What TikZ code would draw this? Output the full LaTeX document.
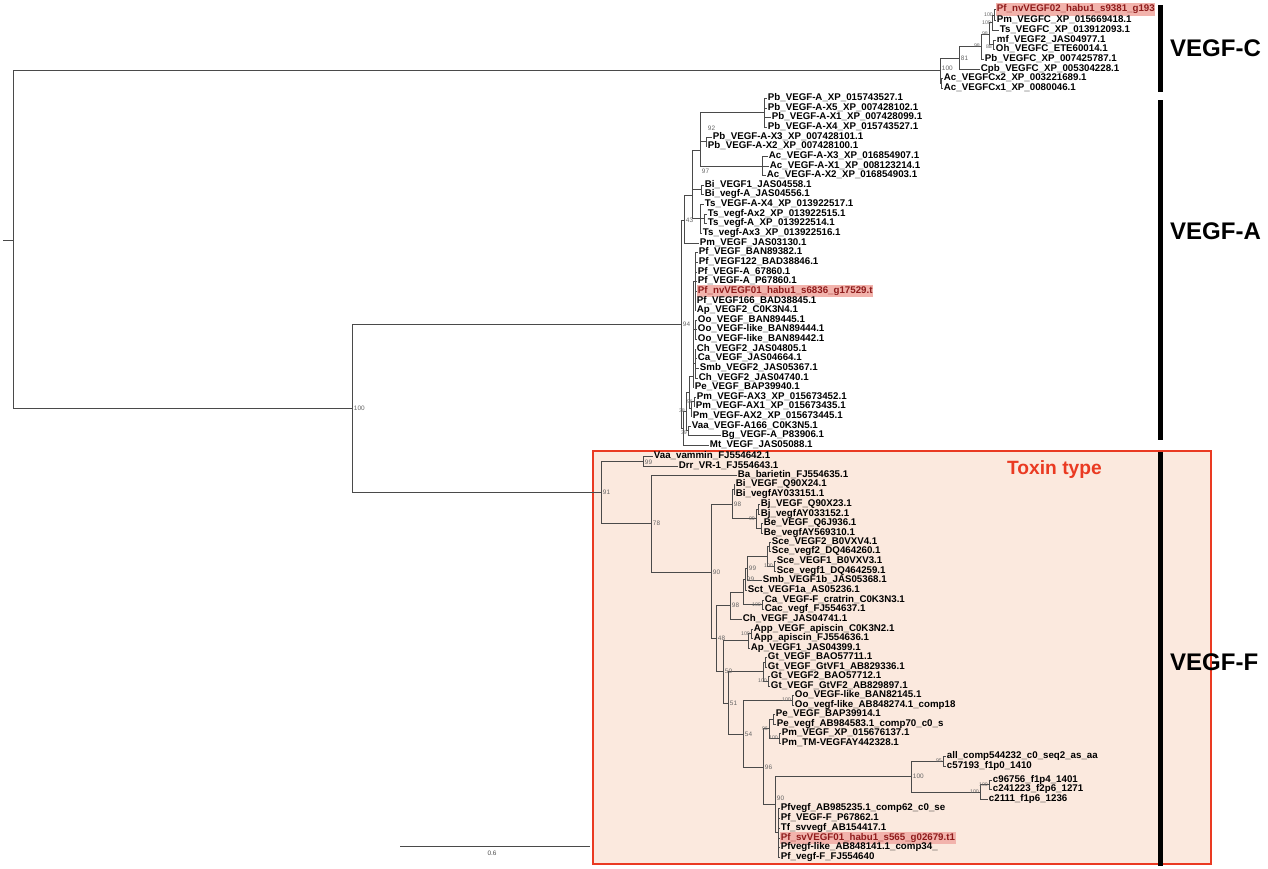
\documentclass[tikz,border=0pt]{standalone}
\usepackage{fontspec}
\setmainfont{Liberation Sans}
\newfontfamily\leaffont{Liberation Sans}
\definecolor{toxinfill}{HTML}{FBE9DE}
\definecolor{toxinred}{HTML}{EA3A22}
\definecolor{hlpink}{HTML}{F2B3AC}
\definecolor{hltext}{HTML}{8E1B1B}
\definecolor{branchgray}{HTML}{4A4A4A}
\tikzstyle{leaf} = [anchor=west, inner sep=0.6pt, font=\leaffont\bfseries\fontsize{8.3}{9}\selectfont]
\tikzstyle{hlleaf} = [leaf, fill=hlpink, text=hltext, inner ysep=1.6pt]
\tikzstyle{boot} = [anchor=west, inner sep=0.3pt, xshift=0.4mm, font=\fontsize{5.5}{6}\selectfont, text=black!60]
\tikzstyle{bootl} = [anchor=east, inner sep=0.2pt, xshift=-0.2mm, font=\fontsize{4.5}{5}\selectfont, text=black!60]
\tikzstyle{branch} = [draw=branchgray, line width=0.55pt]
\tikzstyle{cladebar} = [line width=1.5mm]
\tikzstyle{cladename} = [anchor=west, font=\bfseries\fontsize{20.5}{24}\selectfont]

\begin{document}
\begin{tikzpicture}[x=0.3mm, y=-0.3mm]
\useasboundingbox (0,0) rectangle (1268,868);
\fill [white] (0,0) rectangle (1268,868);

% toxin type box
\draw [toxinred, line width=0.45mm, fill=toxinfill] (593,451) rectangle (1211,864);
\node (toxin) [anchor=west, text=toxinred, font=\bfseries\fontsize{16.4}{19}\selectfont] at (1003,470) {Toxin type};

% internal nodes
\coordinate (stub) at (3,240);
\coordinate (root) at (13,240);
\coordinate (af) at (352,408);
% VEGF-C
\coordinate (cC) at (940,70);
\coordinate (cgrp) at (959,58);
\coordinate (cb) at (981,46);
\coordinate (cc) at (989,34);
\coordinate (cd) at (992,22.5);
\coordinate (ce) at (994,15);
\coordinate (cmo) at (993,44.5);
\coordinate (cac) at (941,83);
% VEGF-A
\coordinate (a0) at (681,324);
\coordinate (aup) at (684,220);
\coordinate (aupa) at (692,195);
\coordinate (pa) at (700,150);
\coordinate (pbgrp) at (764,112.5);
\coordinate (pbx) at (706,141.5);
\coordinate (acgrp) at (762,166);
\coordinate (bigrp) at (701,189.5);
\coordinate (tsgrp) at (700,218.5);
\coordinate (tssub) at (704,218.5);
\coordinate (alow) at (683,428);
\coordinate (alowb) at (686,411);
\coordinate (alowc) at (689,392);
\coordinate (vbgrp) at (688,430.5);
\coordinate (bigpf) at (693,376);
\coordinate (pfgrp) at (695,281);
\coordinate (oogrp) at (695.5,329.5);
\coordinate (chgrp) at (695,363.5);
\coordinate (pmx) at (691,408.75);
\coordinate (pmx13) at (694,401.5);
% VEGF-F
\coordinate (t0) at (601,492);
\coordinate (vdgrp) at (643,461);
\coordinate (t1) at (651,523.5);
\coordinate (t2) at (711,572);
\coordinate (bigrpF) at (732,504);
\coordinate (bipair) at (734,489);
\coordinate (bjbe) at (756,518.5);
\coordinate (bjpair) at (758,509);
\coordinate (bepair) at (761,528);
\coordinate (t3) at (716,638.5);
\coordinate (t4) at (730,605.5);
\coordinate (t6) at (743,592);
\coordinate (t7) at (745,579);
\coordinate (t8) at (747,568);
\coordinate (scegrp) at (767,556);
\coordinate (sce2) at (769,546.5);
\coordinate (sce1) at (774,566);
\coordinate (cacgrp) at (762,604.5);
\coordinate (n50) at (723,671.5);
\coordinate (appgrp) at (748,640.75);
\coordinate (apppair) at (751,633.5);
\coordinate (n51) at (728,703);
\coordinate (gtgrp) at (763,671.5);
\coordinate (gt1) at (765,662);
\coordinate (gt2) at (768,681);
\coordinate (n54) at (743,734);
\coordinate (oogrpF) at (792,700);
\coordinate (n96) at (763,767);
\coordinate (pepm) at (769,728.5);
\coordinate (pepair) at (773,719);
\coordinate (pmpair) at (779,738);
\coordinate (n90) at (775,804.5);
\coordinate (cgrpF) at (911,776.5);
\coordinate (cA) at (943,761);
\coordinate (cB) at (980,792);
\coordinate (cC2) at (989,784.5);
\coordinate (pfsvgrp) at (778,832.5);

% leaves VEGF-C
\node (pfnv2) [hlleaf] at (996,9.5) {Pf\_nvVEGF02\_habu1\_s9381\_g193};
\node (pmC) [leaf] at (996,20) {Pm\_VEGFC\_XP\_015669418.1};
\node (tsC) [leaf] at (999,30) {Ts\_VEGFC\_XP\_013912093.1};
\node (mfC) [leaf] at (996,40) {mf\_VEGF2\_JAS04977.1};
\node (ohC) [leaf] at (995,49) {Oh\_VEGFC\_ETE60014.1};
\node (pbC) [leaf] at (984,59) {Pb\_VEGFC\_XP\_007425787.1};
\node (cpbC) [leaf] at (980,69) {Cpb\_VEGFC\_XP\_005304228.1};
\node (acC2) [leaf] at (943,78) {Ac\_VEGFCx2\_XP\_003221689.1};
\node (acC1) [leaf] at (943,88) {Ac\_VEGFCx1\_XP\_0080046.1};

% leaves VEGF-A
\node (pbA) [leaf] at (767,98) {Pb\_VEGF-A\_XP\_015743527.1};
\node (pbA5) [leaf] at (767,108) {Pb\_VEGF-A-X5\_XP\_007428102.1};
\node (pbA1) [leaf] at (771,117) {Pb\_VEGF-A-X1\_XP\_007428099.1};
\node (pbA4) [leaf] at (767,127) {Pb\_VEGF-A-X4\_XP\_015743527.1};
\node (pbA3) [leaf] at (712,137) {Pb\_VEGF-A-X3\_XP\_007428101.1};
\node (pbA2) [leaf] at (707,146) {Pb\_VEGF-A-X2\_XP\_007428100.1};
\node (acA3) [leaf] at (768,156) {Ac\_VEGF-A-X3\_XP\_016854907.1};
\node (acA1) [leaf] at (769,166) {Ac\_VEGF-A-X1\_XP\_008123214.1};
\node (acA2) [leaf] at (766,175) {Ac\_VEGF-A-X2\_XP\_016854903.1};
\node (biA1) [leaf] at (704,185) {Bi\_VEGF1\_JAS04558.1};
\node (biA2) [leaf] at (704,194) {Bi\_vegf-A\_JAS04556.1};
\node (tsA4) [leaf] at (704,204) {Ts\_VEGF-A-X4\_XP\_013922517.1};
\node (tsA2) [leaf] at (707,214) {Ts\_vegf-Ax2\_XP\_013922515.1};
\node (tsA) [leaf] at (707,223) {Ts\_vegf-A\_XP\_013922514.1};
\node (tsA3) [leaf] at (702,233) {Ts\_vegf-Ax3\_XP\_013922516.1};
\node (pmA) [leaf] at (699,243) {Pm\_VEGF\_JAS03130.1};
\node (pfA1) [leaf] at (698,252) {Pf\_VEGF\_BAN89382.1};
\node (pfA2) [leaf] at (698,262) {Pf\_VEGF122\_BAD38846.1};
\node (pfA3) [leaf] at (697,272) {Pf\_VEGF-A\_67860.1};
\node (pfA4) [leaf] at (697,281) {Pf\_VEGF-A\_P67860.1};
\node (pfnv1) [hlleaf] at (697,291) {Pf\_nvVEGF01\_habu1\_s6836\_g17529.t};
\node (pfA5) [leaf] at (696,301) {Pf\_VEGF166\_BAD38845.1};
\node (apA) [leaf] at (696,310) {Ap\_VEGF2\_C0K3N4.1};
\node (ooA1) [leaf] at (697,320) {Oo\_VEGF\_BAN89445.1};
\node (ooA2) [leaf] at (697,329) {Oo\_VEGF-like\_BAN89444.1};
\node (ooA3) [leaf] at (697,339) {Oo\_VEGF-like\_BAN89442.1};
\node (chA1) [leaf] at (696,349) {Ch\_VEGF2\_JAS04805.1};
\node (caA) [leaf] at (697,358) {Ca\_VEGF\_JAS04664.1};
\node (smbA) [leaf] at (699,368) {Smb\_VEGF2\_JAS05367.1};
\node (chA2) [leaf] at (698,378) {Ch\_VEGF2\_JAS04740.1};
\node (peA) [leaf] at (694,387) {Pe\_VEGF\_BAP39940.1};
\node (pmA3) [leaf] at (696,397) {Pm\_VEGF-AX3\_XP\_015673452.1};
\node (pmA1) [leaf] at (695,406) {Pm\_VEGF-AX1\_XP\_015673435.1};
\node (pmA2) [leaf] at (692,416) {Pm\_VEGF-AX2\_XP\_015673445.1};
\node (vaaA) [leaf] at (691,426) {Vaa\_VEGF-A166\_C0K3N5.1};
\node (bgA) [leaf] at (721,435) {Bg\_VEGF-A\_P83906.1};
\node (mtA) [leaf] at (709,445) {Mt\_VEGF\_JAS05088.1};

% leaves VEGF-F
\node (vaaF) [leaf] at (653,456) {Vaa\_vammin\_FJ554642.1};
\node (drrF) [leaf] at (678,466) {Drr\_VR-1\_FJ554643.1};
\node (baF) [leaf] at (737,475) {Ba\_barietin\_FJ554635.1};
\node (biF1) [leaf] at (735,484) {Bi\_VEGF\_Q90X24.1};
\node (biF2) [leaf] at (735,494) {Bi\_vegfAY033151.1};
\node (bjF1) [leaf] at (760,504) {Bj\_VEGF\_Q90X23.1};
\node (bjF2) [leaf] at (760,514) {Bj\_vegfAY033152.1};
\node (beF1) [leaf] at (763,523) {Be\_VEGF\_Q6J936.1};
\node (beF2) [leaf] at (763,533) {Be\_vegfAY569310.1};
\node (sceF1) [leaf] at (771,542) {Sce\_VEGF2\_B0VXV4.1};
\node (sceF2) [leaf] at (771,551) {Sce\_vegf2\_DQ464260.1};
\node (sceF3) [leaf] at (776,561) {Sce\_VEGF1\_B0VXV3.1};
\node (sceF4) [leaf] at (776,571) {Sce\_vegf1\_DQ464259.1};
\node (smbF) [leaf] at (762,580) {Smb\_VEGF1b\_JAS05368.1};
\node (sctF) [leaf] at (747,590) {Sct\_VEGF1a\_AS05236.1};
\node (caF) [leaf] at (764,600) {Ca\_VEGF-F\_cratrin\_C0K3N3.1};
\node (cacF) [leaf] at (764,609) {Cac\_vegf\_FJ554637.1};
\node (chF) [leaf] at (742,619) {Ch\_VEGF\_JAS04741.1};
\node (appF1) [leaf] at (753,629) {App\_VEGF\_apiscin\_C0K3N2.1};
\node (appF2) [leaf] at (753,638) {App\_apiscin\_FJ554636.1};
\node (apF) [leaf] at (750,648) {Ap\_VEGF1\_JAS04399.1};
\node (gtF1) [leaf] at (767,657) {Gt\_VEGF\_BAO57711.1};
\node (gtF2) [leaf] at (767,667) {Gt\_VEGF\_GtVF1\_AB829336.1};
\node (gtF3) [leaf] at (770,676) {Gt\_VEGF2\_BAO57712.1};
\node (gtF4) [leaf] at (770,686) {Gt\_VEGF\_GtVF2\_AB829897.1};
\node (ooF1) [leaf] at (794,695) {Oo\_VEGF-like\_BAN82145.1};
\node (ooF2) [leaf] at (794,705) {Oo\_vegf-like\_AB848274.1\_comp18};
\node (peF1) [leaf] at (775,714) {Pe\_VEGF\_BAP39914.1};
\node (peF2) [leaf] at (776,724) {Pe\_vegf\_AB984583.1\_comp70\_c0\_s};
\node (pmF1) [leaf] at (781,733) {Pm\_VEGF\_XP\_015676137.1};
\node (pmF2) [leaf] at (781,743) {Pm\_TM-VEGFAY442328.1};
\node (allF) [leaf] at (946,756) {all\_comp544232\_c0\_seq2\_as\_aa};
\node (c57F) [leaf] at (946,766) {c57193\_f1p0\_1410};
\node (c96F) [leaf] at (992,780) {c96756\_f1p4\_1401};
\node (c241F) [leaf] at (992,789) {c241223\_f2p6\_1271};
\node (c2111F) [leaf] at (988,799) {c2111\_f1p6\_1236};
\node (pfvF1) [leaf] at (780,808) {Pfvegf\_AB985235.1\_comp62\_c0\_se};
\node (pfvF2) [leaf] at (780,818) {Pf\_VEGF-F\_P67862.1};
\node (tfF) [leaf] at (780,828) {Tf\_svvegf\_AB154417.1};
\node (pfsv1) [hlleaf] at (780,838) {Pf\_svVEGF01\_habu1\_s565\_g02679.t1};
\node (pfvF3) [leaf] at (780,847) {Pfvegf-like\_AB848141.1\_comp34\_};
\node (pfvF4) [leaf] at (780,857) {Pf\_vegf-F\_FJ554640};

% branches
\draw [branch] (stub) -- (root);
\draw [branch] (root) |- (cC) (root) |- (af);
\draw [branch] (cC) |- (cgrp) (cC) |- (cac);
\draw [branch] (cgrp) |- (cb) (cgrp) |- (cpbC);
\draw [branch] (cb) |- (cc) (cb) |- (pbC);
\draw [branch] (cc) |- (cd) (cc) |- (cmo);
\draw [branch] (cd) |- (ce) (cd) |- (tsC);
\draw [branch] (ce) |- (pfnv2) (ce) |- (pmC);
\draw [branch] (cmo) |- (mfC) (cmo) |- (ohC);
\draw [branch] (cac) |- (acC2) (cac) |- (acC1);
\draw [branch] (af) |- (a0) (af) |- (t0);

\draw [branch] (a0) |- (aup) (a0) |- (alow);
\draw [branch] (aup) |- (aupa) (aup) |- (pmA);
\draw [branch] (aupa) |- (pa) (aupa) |- (bigrp) (aupa) |- (tsgrp);
\draw [branch] (pa) |- (pbgrp) (pa) |- (pbx) (pa) |- (acgrp);
\draw [branch] (pbgrp) |- (pbA) (pbgrp) |- (pbA5) (pbgrp) |- (pbA1) (pbgrp) |- (pbA4);
\draw [branch] (pbx) |- (pbA3) (pbx) |- (pbA2);
\draw [branch] (acgrp) |- (acA3) (acgrp) |- (acA1) (acgrp) |- (acA2);
\draw [branch] (bigrp) |- (biA1) (bigrp) |- (biA2);
\draw [branch] (tsgrp) |- (tsA4) (tsgrp) |- (tssub) (tsgrp) |- (tsA3);
\draw [branch] (tssub) |- (tsA2) (tssub) |- (tsA);
\draw [branch] (alow) |- (alowb) (alow) |- (mtA);
\draw [branch] (alowb) |- (alowc) (alowb) |- (vbgrp);
\draw [branch] (vbgrp) |- (vaaA) (vbgrp) |- (bgA);
\draw [branch] (alowc) |- (bigpf) (alowc) |- (pmx);
\draw [branch] (bigpf) |- (pfgrp) (bigpf) |- (oogrp) (bigpf) |- (chgrp) (bigpf) |- (peA);
\draw [branch] (pfgrp) |- (pfA1) (pfgrp) |- (pfA2) (pfgrp) |- (pfA3) (pfgrp) |- (pfA4) (pfgrp) |- (pfnv1) (pfgrp) |- (pfA5) (pfgrp) |- (apA);
\draw [branch] (oogrp) |- (ooA1) (oogrp) |- (ooA2) (oogrp) |- (ooA3);
\draw [branch] (chgrp) |- (chA1) (chgrp) |- (caA) (chgrp) |- (smbA) (chgrp) |- (chA2);
\draw [branch] (pmx) |- (pmx13) (pmx) |- (pmA2);
\draw [branch] (pmx13) |- (pmA3) (pmx13) |- (pmA1);

\draw [branch] (t0) |- (vdgrp) (t0) |- (t1);
\draw [branch] (vdgrp) |- (vaaF) (vdgrp) |- (drrF);
\draw [branch] (t1) |- (baF) (t1) |- (t2);
\draw [branch] (t2) |- (bigrpF) (t2) |- (t3);
\draw [branch] (bigrpF) |- (bipair) (bigrpF) |- (bjbe);
\draw [branch] (bipair) |- (biF1) (bipair) |- (biF2);
\draw [branch] (bjbe) |- (bjpair) (bjbe) |- (bepair);
\draw [branch] (bjpair) |- (bjF1) (bjpair) |- (bjF2);
\draw [branch] (bepair) |- (beF1) (bepair) |- (beF2);
\draw [branch] (t3) |- (t4) (t3) |- (n50);
\draw [branch] (t4) |- (t6) (t4) |- (chF);
\draw [branch] (t6) |- (t7) (t6) |- (cacgrp);
\draw [branch] (t7) |- (t8) (t7) |- (sctF);
\draw [branch] (t8) |- (scegrp) (t8) |- (smbF);
\draw [branch] (scegrp) |- (sce2) (scegrp) |- (sce1);
\draw [branch] (sce2) |- (sceF1) (sce2) |- (sceF2);
\draw [branch] (sce1) |- (sceF3) (sce1) |- (sceF4);
\draw [branch] (cacgrp) |- (caF) (cacgrp) |- (cacF);
\draw [branch] (n50) |- (appgrp) (n50) |- (n51);
\draw [branch] (appgrp) |- (apppair) (appgrp) |- (apF);
\draw [branch] (apppair) |- (appF1) (apppair) |- (appF2);
\draw [branch] (n51) |- (gtgrp) (n51) |- (n54);
\draw [branch] (gtgrp) |- (gt1) (gtgrp) |- (gt2);
\draw [branch] (gt1) |- (gtF1) (gt1) |- (gtF2);
\draw [branch] (gt2) |- (gtF3) (gt2) |- (gtF4);
\draw [branch] (n54) |- (oogrpF) (n54) |- (n96);
\draw [branch] (oogrpF) |- (ooF1) (oogrpF) |- (ooF2);
\draw [branch] (n96) |- (pepm) (n96) |- (n90);
\draw [branch] (pepm) |- (pepair) (pepm) |- (pmpair);
\draw [branch] (pepair) |- (peF1) (pepair) |- (peF2);
\draw [branch] (pmpair) |- (pmF1) (pmpair) |- (pmF2);
\draw [branch] (n90) |- (cgrpF) (n90) |- (pfsvgrp);
\draw [branch] (cgrpF) |- (cA) (cgrpF) |- (cB);
\draw [branch] (cA) |- (allF) (cA) |- (c57F);
\draw [branch] (cB) |- (cC2) (cB) |- (c2111F);
\draw [branch] (cC2) |- (c96F) (cC2) |- (c241F);
\draw [branch] (pfsvgrp) |- (pfvF1) (pfsvgrp) |- (pfvF2) (pfsvgrp) |- (tfF) (pfsvgrp) |- (pfsv1) (pfsvgrp) |- (pfvF3) (pfsvgrp) |- (pfvF4);

% bootstrap values
\node (b-af) [boot] at (af) {100};
\node (b-cC) [boot, yshift=0.4mm] at (cC) {100};
\node (b-cgrp) [boot] at (cgrp) {81};
\node (b-cb) [bootl] at (cb) {98};
\node (b-cc) [bootl] at (cc) {98};
\node (b-cmo) [bootl, yshift=-0.6mm] at (cmo) {88};
\node (b-cd) [bootl] at (cd) {100};
\node (b-ce) [bootl] at (ce) {100};
\node (b-a0) [boot] at (a0) {94};
\node (b-aup) [boot] at (aup) {43};
\node (b-pa) [boot, yshift=-6.3mm] at (pa) {97};
\node (b-pbx) [boot, yshift=4mm] at (pbx) {92};
\node (b-alowb) [bootl] at (alowb) {38};
\node (b-vbgrp) [bootl, yshift=-0.8mm] at (vbgrp) {39};
\node (b-pmx13) [bootl] at (pmx13) {96};
\node (b-t0) [boot] at (t0) {91};
\node (b-vdgrp) [boot, yshift=-0.5mm] at (vdgrp) {99};
\node (b-t1) [boot] at (t1) {78};
\node (b-t2) [boot] at (t2) {90};
\node (b-bigrpF) [boot] at (bigrpF) {98};
\node (b-bjbe) [bootl] at (bjbe) {99};
\node (b-t3) [boot] at (t3) {48};
\node (b-t4) [boot] at (t4) {98};
\node (b-t8) [boot] at (t8) {99};
\node (b-t7) [boot] at (t7) {99};
\node (b-sce1) [bootl] at (sce1) {100};
\node (b-cacgrp) [bootl] at (cacgrp) {100};
\node (b-apppair) [bootl] at (apppair) {100};
\node (b-n50) [boot] at (n50) {50};
\node (b-n51) [boot] at (n51) {51};
\node (b-gt2) [bootl] at (gt2) {100};
\node (b-oogrpF) [bootl] at (oogrpF) {100};
\node (b-n54) [boot] at (n54) {54};
\node (b-pepm) [bootl] at (pepm) {96};
\node (b-pmpair) [bootl] at (pmpair) {100};
\node (b-n96) [boot] at (n96) {96};
\node (b-n90) [boot, yshift=2mm] at (n90) {90};
\node (b-cgrpF) [boot] at (cgrpF) {100};
\node (b-cA) [bootl] at (cA) {95};
\node (b-cB) [bootl] at (cB) {100};
\node (b-cC2) [bootl] at (cC2) {100};

% scale bar
\coordinate (sb0) at (400,846);
\coordinate (sb1) at (590,846);
\draw [branch] (sb0) -- (sb1);
\node (sbtext) [font=\fontsize{5.5}{6}\selectfont, text=black!70] at (492,853) {0.6};

% clade bars
\coordinate (vcTop) at (1160,5);
\coordinate (vcBot) at (1160,92);
\coordinate (vaTop) at (1160,100);
\coordinate (vaBot) at (1160,440);
\coordinate (vfTop) at (1160,452);
\coordinate (vfBot) at (1160,866);
\draw [cladebar] (vcTop) -- (vcBot);
\draw [cladebar] (vaTop) -- (vaBot);
\draw [cladebar] (vfTop) -- (vfBot);
\node (vegfc) [cladename] at (1166,48) {VEGF-C};
\node (vegfa) [cladename] at (1166,231) {VEGF-A};
\node (vegff) [cladename] at (1166,662) {VEGF-F};
\end{tikzpicture}
\end{document}
